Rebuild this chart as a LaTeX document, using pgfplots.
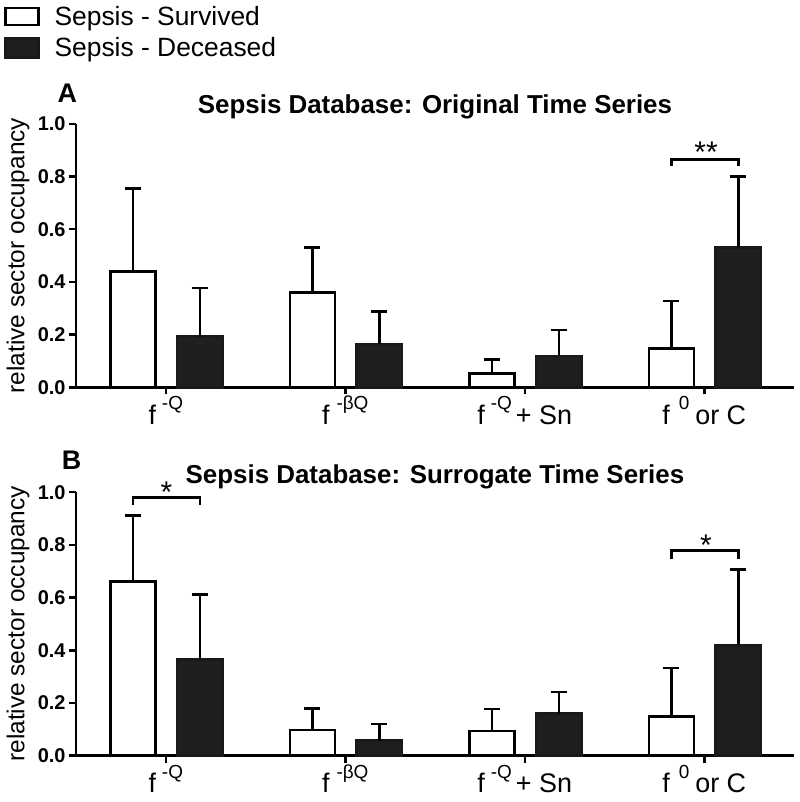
\documentclass[border=0pt]{standalone}
\usepackage{pgfplots}
\usepackage{pgfplotstable}
\pgfplotsset{compat=1.18}
\usepackage{fontspec}
\setmainfont{Liberation Sans}
\newcommand\fs[1]{\fontsize{#1}{#1}\selectfont}
\newcommand\sups[1]{\raisebox{14.5bp}{\fs{19}#1}}

\pgfplotstableread{
x y e
-0.183 0.440 0.314
0.817 0.360 0.171
1.817 0.053 0.053
2.817 0.148 0.180
}\topsurv
\pgfplotstableread{
x y e
0.19 0.192 0.184
1.19 0.163 0.124
2.19 0.119 0.098
3.19 0.531 0.269
}\topdec
\pgfplotstableread{
x y e
-0.183 0.662 0.250
0.817 0.097 0.083
1.817 0.094 0.083
2.817 0.148 0.184
}\botsurv
\pgfplotstableread{
x y e
0.19 0.365 0.246
1.19 0.057 0.063
2.19 0.160 0.081
3.19 0.419 0.288
}\botdec

\pgfplotsset{
  sepsis/.style={
    scale only axis, width=718bp, height=263.5bp,
    xmin=-0.5, xmax=3.5, ymin=0, ymax=1,
    axis lines*=left,
    axis line style={line width=2.5bp, black},
    every tick/.style={line width=2.5bp, black},
    tick align=outside, major tick length=7bp,
    xtick={0,1,2,3},
    xticklabels={{f\hspace{6bp}\sups{-Q}},{f\hspace{7bp}\sups{-βQ}},{f\hspace{6bp}\sups{-Q}\hspace{4bp}+ Sn},{f\hspace{9bp}\sups{0}\hspace{6bp}or C}},
    ytick={0,0.2,0.4,0.6,0.8,1.0},
    yticklabel style={font=\bfseries\fs{20}, /pgf/number format/fixed, /pgf/number format/fixed zerofill, /pgf/number format/precision=1, /pgf/number format/assume math mode=true},
    xticklabel style={font=\fs{27}, anchor=base, yshift=-30bp},
    ylabel={relative sector occupancy},
    ylabel style={font=\fs{24.5}, at={(axis description cs:-0.0808,0.5)}, anchor=center},
    clip=false,
  },
  surv/.style={ybar, bar width=0.252, bar shift=0pt, draw=black, fill=white, line width=2.5bp},
  dec/.style={ybar, bar width=0.252, bar shift=0pt, draw=black!90, fill=black!88, line width=2.5bp},
  ebar/.style={error bars/.cd, y dir=plus, y explicit, error bar style={line width=2.5bp, black}, error mark=|, error mark options={line width=2.5bp, mark size=8bp, black}},
  brk/.style={sharp plot, line width=2.5bp, black, mark=none, forget plot},
}

\begin{document}
\begin{tikzpicture}
\path[use as bounding box] (0,0) rectangle (800bp,802bp);

% Top panel
\begin{axis}[sepsis, at={(76bp,414.7bp)}, anchor=south west,
  legend style={at={(axis description cs:-0.1005,1.455)}, anchor=north west, draw=none, fill=none, font=\fs{26.5}, inner sep=0pt, row sep=7bp, legend cell align=left,
    /tikz/every odd column/.append style={column sep=13bp}},
  ]
\addlegendimage{legend image code/.code={\draw[line width=2.5bp, draw=black, fill=white] (0bp,-8.5bp) rectangle (33bp,8.5bp);}}
\addlegendentry{Sepsis - Survived}
\addlegendimage{legend image code/.code={\draw[line width=2.5bp, draw=black!90, fill=black!88] (0bp,-9.5bp) rectangle (33bp,9.5bp);}}
\addlegendentry{Sepsis - Deceased}
\addplot[surv, forget plot, ebar] table[x=x, y=y, y error=e] {\topsurv};
\addplot[dec, forget plot, ebar] table[x=x, y=y, y error=e] {\topdec};
\addplot[brk] coordinates {(2.817,0.84) (2.817,0.865) (3.19,0.865) (3.19,0.84)};
\node[font=\fs{30}, anchor=base] at (axis cs:3.01,0.852) {**};
\node[font=\bfseries\fs{27}, anchor=center] at (axis description cs:-0.012,1.117) {A};
\node[font=\bfseries\fs{26}, anchor=base] at (axis description cs:0.5,1.0406) {Sepsis Database: Original Time Series};
\end{axis}

% Bottom panel
\begin{axis}[sepsis, at={(76bp,46.3bp)}, anchor=south west]
\addplot[surv, ebar] table[x=x, y=y, y error=e] {\botsurv};
\addplot[dec, ebar] table[x=x, y=y, y error=e] {\botdec};
\addplot[brk] coordinates {(-0.183,0.952) (-0.183,0.98) (0.19,0.98) (0.19,0.952)};
\addplot[brk] coordinates {(2.817,0.748) (2.817,0.779) (3.19,0.779) (3.19,0.748)};
\node[font=\fs{30}, anchor=base] at (axis cs:0.004,0.962) {*};
\node[font=\fs{30}, anchor=base] at (axis cs:3.01,0.760) {*};
\node[font=\bfseries\fs{27}, anchor=center] at (axis description cs:-0.006,1.12) {B};
\node[font=\bfseries\fs{26}, anchor=base] at (axis description cs:0.5,1.033) {Sepsis Database: Surrogate Time Series};
\end{axis}
\end{tikzpicture}
\end{document}
